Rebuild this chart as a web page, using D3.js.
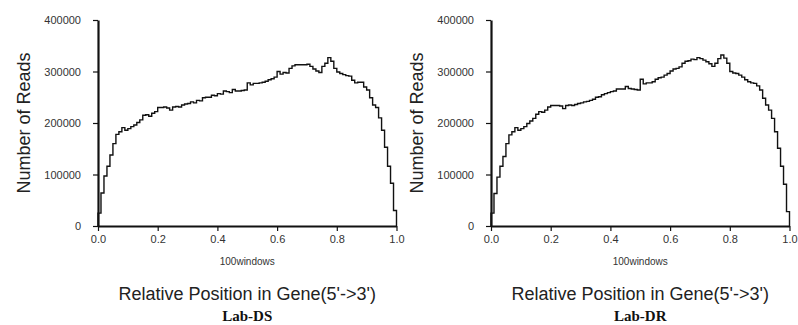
<!DOCTYPE html>
<html>
<head>
<meta charset="utf-8">
<script src="https://cdn.jsdelivr.net/npm/d3@7"></script>
<style>
  html, body { margin: 0; padding: 0; background: #fff; }
  svg { display: block; }
</style>
</head>
<body>
<svg id="chart" width="798" height="325"></svg>
<script>
// ---- data ----
const panelNames = ["Lab-DS", "Lab-DR"];
const windowCount = 100;
const xTicks = [0.0, 0.2, 0.4, 0.6, 0.8, 1.0];
const yTicks = [0, 100000, 200000, 300000, 400000];
const xSubLabel = "100windows";
const xAxisTitle = "Relative Position in Gene(5'->3')";
const yAxisTitle = "Number of Reads";

const dsReads = [
  25000, 64000, 97000, 116000, 138000, 160000, 178000, 183000, 191000, 186000,
  189000, 193000, 196000, 201000, 206000, 215000, 216000, 213000, 219000, 222000,
  230000, 230000, 231000, 229000, 225000, 231000, 232000, 231000, 235000, 237000,
  238000, 241000, 239000, 244000, 243000, 249000, 250000, 250000, 254000, 253000,
  257000, 256000, 262000, 261000, 259000, 265000, 262000, 262000, 263000, 264000,
  278000, 274000, 277000, 277000, 278000, 279000, 281000, 284000, 286000, 289000,
  300000, 295000, 298000, 297000, 306000, 311000, 313000, 313000, 313000, 313000,
  314000, 310000, 305000, 301000, 298000, 310000, 316000, 327000, 320000, 306000,
  299000, 296000, 294000, 292000, 291000, 283000, 278000, 279000, 279000, 270000,
  264000, 249000, 235000, 230000, 210000, 186000, 153000, 116000, 83000, 30000
];

const drReads = [
  25000, 63000, 95000, 116000, 135000, 160000, 177000, 183000, 191000, 186000,
  189000, 193000, 199000, 204000, 209000, 217000, 222000, 221000, 225000, 231000,
  234000, 234000, 234000, 233000, 228000, 234000, 235000, 234000, 236000, 238000,
  239000, 241000, 242000, 244000, 246000, 250000, 251000, 255000, 257000, 259000,
  261000, 262000, 266000, 266000, 266000, 271000, 267000, 266000, 265000, 264000,
  285000, 276000, 278000, 278000, 280000, 285000, 288000, 289000, 293000, 296000,
  301000, 305000, 306000, 309000, 316000, 320000, 321000, 324000, 323000, 327000,
  325000, 322000, 319000, 315000, 310000, 316000, 325000, 332000, 326000, 316000,
  300000, 297000, 296000, 293000, 289000, 284000, 280000, 278000, 277000, 272000,
  264000, 248000, 235000, 225000, 209000, 183000, 151000, 116000, 81000, 28000
];

const panelSeries = [dsReads, drReads];

// ---- layout ----
const SANS = "'Liberation Sans', Arial, sans-serif";
const SERIF = "'Liberation Serif', 'Times New Roman', serif";
const svg = d3.select("#chart");
const panels = [
  { x0: 98, x1: 396.5 },
  { x0: 491, x1: 789.5 }
];
const yTop = 20, yBottom = 226;

panels.forEach((p, pi) => {
  const values = panelSeries[pi];
  const x = d3.scaleLinear().domain([0, 1]).range([p.x0, p.x1]);
  const y = d3.scaleLinear().domain([0, 400000]).range([yBottom, yTop]);
  const g = svg.append("g");

  // step line
  const pts = [[0, 0]];
  values.forEach((v, i) => pts.push([i / windowCount, v]));
  pts.push([1, values[values.length - 1]]);
  pts.push([1, 0]);
  const line = d3.line()
    .x(d => x(d[0]))
    .y(d => y(d[1]))
    .curve(d3.curveStepAfter);
  g.append("path")
    .datum(pts)
    .attr("d", line)
    .attr("fill", "none")
    .attr("stroke", "#111")
    .attr("stroke-width", 1.4)
    .attr("stroke-linejoin", "miter");

  // y axis
  const ya = g.append("g")
    .attr("transform", `translate(${p.x0},0)`)
    .call(d3.axisLeft(y).tickValues(yTicks).tickFormat(d3.format("d"))
      .tickSize(5).tickSizeOuter(0).tickPadding(12));
  ya.select(".domain").attr("stroke", "#111").attr("stroke-width", 2.2);
  ya.selectAll(".tick line").attr("stroke", "#111").attr("stroke-width", 1.2);
  ya.selectAll(".tick text").attr("fill", "#333")
    .style("font-size", "11px").style("font-family", SANS);

  // x axis
  const xa = g.append("g")
    .attr("transform", `translate(0,${yBottom})`)
    .call(d3.axisBottom(x).tickValues(xTicks).tickFormat(d3.format(".1f"))
      .tickSize(5).tickSizeOuter(0).tickPadding(4));
  xa.select(".domain").attr("stroke", "#111").attr("stroke-width", 2.2);
  xa.selectAll(".tick line").attr("stroke", "#111").attr("stroke-width", 1.2);
  xa.selectAll(".tick text").attr("fill", "#333")
    .style("font-size", "11px").style("font-family", SANS);

  const cx = (p.x0 + p.x1) / 2;

  g.append("text")
    .attr("x", cx).attr("y", 265)
    .attr("text-anchor", "middle")
    .attr("fill", "#333")
    .style("font-size", "10px").style("font-family", SANS)
    .text(xSubLabel);

  g.append("text")
    .attr("x", cx).attr("y", 300)
    .attr("text-anchor", "middle")
    .attr("fill", "#222")
    .style("font-size", "18px").style("font-family", SANS)
    .text(xAxisTitle);

  g.append("text")
    .attr("x", cx).attr("y", 321)
    .attr("text-anchor", "middle")
    .attr("fill", "#111")
    .style("font-size", "15px").style("font-weight", "bold").style("font-family", SERIF)
    .text(panelNames[pi]);

  g.append("text")
    .attr("transform", `translate(${p.x0 - 68},${(yTop + yBottom) / 2}) rotate(-90)`)
    .attr("text-anchor", "middle")
    .attr("fill", "#222")
    .style("font-size", "18px").style("font-family", SANS)
    .text(yAxisTitle);
});
</script>
</body>
</html>
